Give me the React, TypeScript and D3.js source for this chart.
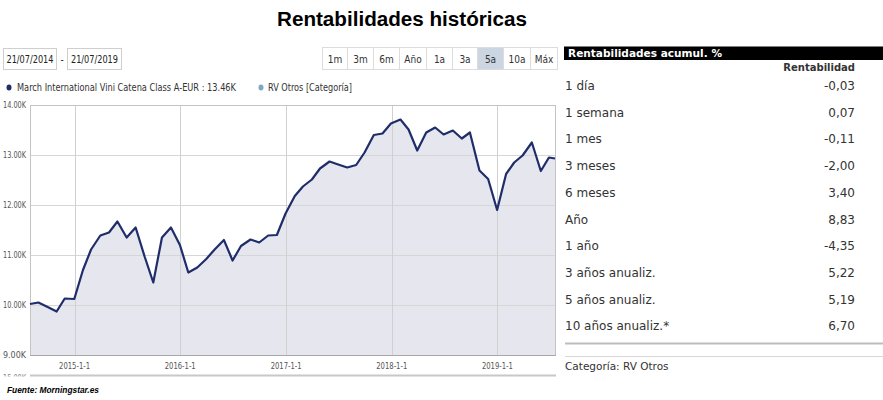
import React from "react";
import * as d3 from "d3";

const dates = [
  "2014-07-31","2014-08-29","2014-09-30","2014-10-31","2014-11-28","2014-12-31",
  "2015-01-30","2015-02-27","2015-03-31","2015-04-30","2015-05-29","2015-06-30",
  "2015-07-31","2015-08-31","2015-09-30","2015-10-30","2015-11-30","2015-12-31",
  "2016-01-29","2016-02-29","2016-03-31","2016-04-29","2016-05-31","2016-06-30",
  "2016-07-29","2016-08-31","2016-09-30","2016-10-31","2016-11-30","2016-12-30",
  "2017-01-31","2017-02-28","2017-03-31","2017-04-28","2017-05-31","2017-06-30",
  "2017-07-31","2017-08-31","2017-09-29","2017-10-31","2017-11-30","2017-12-29",
  "2018-01-31","2018-02-28","2018-03-30","2018-04-30","2018-05-31","2018-06-29",
  "2018-07-31","2018-08-31","2018-09-28","2018-10-31","2018-11-30","2018-12-31",
  "2019-01-31","2019-02-28","2019-03-29","2019-04-30","2019-05-31","2019-06-28",
  "2019-07-19",
];
const fundValues = [
  10020, 10050, 9960, 9870, 10130, 10120,
  10700, 11110, 11390, 11450, 11670, 11350,
  11550, 10970, 10450, 11350, 11550, 11200,
  10650, 10750, 10920, 11110, 11300, 10890,
  11180, 11310, 11250, 11390, 11400, 11830,
  12180, 12370, 12510, 12730, 12870, 12810,
  12750, 12800, 13050, 13400, 13430, 13630,
  13710, 13510, 13090, 13450, 13550, 13410,
  13490, 13330, 13450, 12690, 12520, 11900,
  12620, 12850, 12990, 13250, 12680, 12950,
  12930,
];
const yTicks = [9000, 10000, 11000, 12000, 13000, 14000];
const xTickDates = ["2015-01-01", "2016-01-01", "2017-01-01", "2018-01-01", "2019-01-01"];
const rangeButtons = ["1m", "3m", "6m", "Año", "1a", "3a", "5a", "10a", "Máx"];
const selectedButton = "5a";
const periodLabels = ["1 día", "1 semana", "1 mes", "3 meses", "6 meses", "Año", "1 año", "3 años anualiz.", "5 años anualiz.", "10 años anualiz.*"];
const periodValues = ["-0,03", "0,07", "-0,11", "-2,00", "3,40", "8,83", "-4,35", "5,22", "5,19", "6,70"];
const fundName = "March International Vini Catena Class A-EUR : 13.46K";
const categoryName = "RV Otros [Categoría]";

const chartFont = "'DejaVu Sans Condensed', 'DejaVu Sans', sans-serif";
const tableFont = "'DejaVu Sans', Verdana, sans-serif";

export default function App() {
  const parse = d3.utcParse("%Y-%m-%d");
  const data = dates.map((d, i) => ({ date: parse(d)!, value: fundValues[i] }));
  const left = 30, right = 555, top = 105, bottom = 355;
  const x = d3.scaleUtc().domain([data[0].date, data[data.length - 1].date]).range([left, right]);
  const y = d3.scaleLinear().domain([9000, 14000]).range([bottom, top]);
  const line = d3.line<any>().x(d => x(d.date)).y(d => y(d.value));
  const area = d3.area<any>().x(d => x(d.date)).y0(bottom).y1(d => y(d.value));
  const fmtY = (v: number) => (v / 1000).toFixed(2) + "K";
  const fmtX = (d: Date) => `${d.getUTCFullYear()}-${d.getUTCMonth() + 1}-${d.getUTCDate()}`;

  const btnEdges = [322, 347, 373, 399, 426, 452, 477, 503, 530, 557];
  const rowY0 = 90, rowStep = 26.7;

  return (
    <div style={{ position: "absolute", left: 0, top: 0, width: 883, height: 400, background: "#fff" }}>
      <svg width={883} height={400} style={{ display: "block" }}>
        <rect width={883} height={400} fill="#fff" />
        <text x={402} y={26} textAnchor="middle" fontFamily="'Liberation Sans', Arial, sans-serif" fontWeight="bold" fontSize={20} fill="#000" textLength={250} lengthAdjust="spacingAndGlyphs">Rentabilidades históricas</text>

        {/* date inputs */}
        <rect x={3.5} y={48.5} width={53} height={21} fill="#fff" stroke="#cfcfcf" />
        <text x={30} y={63} textAnchor="middle" fontFamily={chartFont} fontSize={10} fill="#222" textLength={47} lengthAdjust="spacingAndGlyphs">21/07/2014</text>
        <text x={62} y={63} textAnchor="middle" fontFamily={chartFont} fontSize={10} fill="#222">-</text>
        <rect x={67.5} y={48.5} width={54} height={21} fill="#fff" stroke="#cfcfcf" />
        <text x={94.5} y={63} textAnchor="middle" fontFamily={chartFont} fontSize={10} fill="#222" textLength={47} lengthAdjust="spacingAndGlyphs">21/07/2019</text>

        {/* range buttons */}
        {rangeButtons.map((b, i) => (
          <g key={b}>
            <rect x={btnEdges[i] + 0.5} y={47.5} width={btnEdges[i + 1] - btnEdges[i]} height={22}
              fill={b === selectedButton ? "#cbd6e2" : "#fff"} stroke="#dcdcdc" />
            <text x={(btnEdges[i] + btnEdges[i + 1]) / 2 + 0.5} y={63} textAnchor="middle" fontFamily={chartFont} fontSize={10} fill="#333">{b}</text>
          </g>
        ))}

        {/* legend */}
        <ellipse cx={9} cy={87.5} rx={2.5} ry={3} fill="#1f2d6b" />
        <text x={17} y={91} fontFamily={chartFont} fontSize={10} fill="#333" textLength={219} lengthAdjust="spacingAndGlyphs">{fundName}</text>
        <ellipse cx={261} cy={87.5} rx={2.5} ry={3} fill="#7ea7c2" />
        <text x={268} y={91} fontFamily={chartFont} fontSize={10} fill="#333" textLength={84} lengthAdjust="spacingAndGlyphs">{categoryName}</text>

        {/* plot */}
        <rect x={left} y={top} width={right - left} height={bottom - top} fill="#fff" />
        <path d={area(data)!} fill="#e6e7ee" />
        {yTicks.map(t => (
          <line key={t} x1={left} x2={right} y1={y(t) + 0.5} y2={y(t) + 0.5} stroke="#d6d6d6" strokeWidth={1} />
        ))}
        {xTickDates.map(s => {
          const xv = Math.round(x(parse(s)!)) + 0.5;
          return <line key={s} x1={xv} x2={xv} y1={top} y2={bottom} stroke="#d0d0d0" strokeWidth={1} />;
        })}
        <rect x={left + 0.5} y={top + 0.5} width={right - left} height={bottom - top} fill="none" stroke="#c4c4c4" />
        <path d={line(data)!} fill="none" stroke="#1f2d6b" strokeWidth={2.2} strokeLinejoin="round" />
        <line x1={left} x2={right + 1} y1={bottom + 0.5} y2={bottom + 0.5} stroke="#a8a8a8" />
        {yTicks.map(t => (
          <text key={t} x={26} y={y(t) + 3} textAnchor="end" fontFamily={chartFont} fontSize={9} fill="#555" textLength={23} lengthAdjust="spacingAndGlyphs">{fmtY(t)}</text>
        ))}
        {xTickDates.map(s => {
          const d = parse(s)!;
          return <text key={s} x={x(d)} y={369} textAnchor="middle" fontFamily={chartFont} fontSize={9.5} fill="#555" textLength={31} lengthAdjust="spacingAndGlyphs">{fmtX(d)}</text>;
        })}

        {/* navigator remnant */}
        <text x={26} y={381} textAnchor="end" fontFamily={chartFont} fontSize={9} fill="#888" textLength={23} lengthAdjust="spacingAndGlyphs">15.00K</text>
        <rect x={0} y={376.5} width={560} height={10} fill="#fff" />
        <line x1={left} x2={right + 1} y1={375.5} y2={375.5} stroke="#c8c8c8" strokeWidth={2} />

        <text x={7} y={393} fontFamily="'Liberation Sans', Arial, sans-serif" fontWeight="bold" fontStyle="italic" fontSize={9} fill="#000" textLength={92} lengthAdjust="spacingAndGlyphs">Fuente: Morningstar.es</text>

        {/* table */}
        <rect x={564} y={46.5} width={319} height={13.5} fill="#000" />
        <text x={568} y={56.5} fontFamily={tableFont} fontWeight="bold" fontSize={11} fill="#fff" textLength={154} lengthAdjust="spacingAndGlyphs">Rentabilidades acumul. %</text>
        <text x={855} y={71} textAnchor="end" fontFamily={tableFont} fontWeight="bold" fontSize={10} fill="#333">Rentabilidad</text>
        {periodLabels.map((l, i) => (
          <g key={l}>
            <text x={565} y={rowY0 + i * rowStep} fontFamily={tableFont} fontSize={12} fill="#333">{l}</text>
            <text x={855} y={rowY0 + i * rowStep} textAnchor="end" fontFamily={tableFont} fontSize={12} fill="#333">{periodValues[i]}</text>
          </g>
        ))}
        <line x1={565} x2={883} y1={343.5} y2={343.5} stroke="#bdbdbd" strokeWidth={2} />
        <line x1={565} x2={883} y1={356.5} y2={356.5} stroke="#d8d8d8" strokeWidth={1} />
        <text x={565} y={370} fontFamily={tableFont} fontSize={10.5} fill="#333">Categoría: RV Otros</text>
      </svg>
    </div>
  );
}
